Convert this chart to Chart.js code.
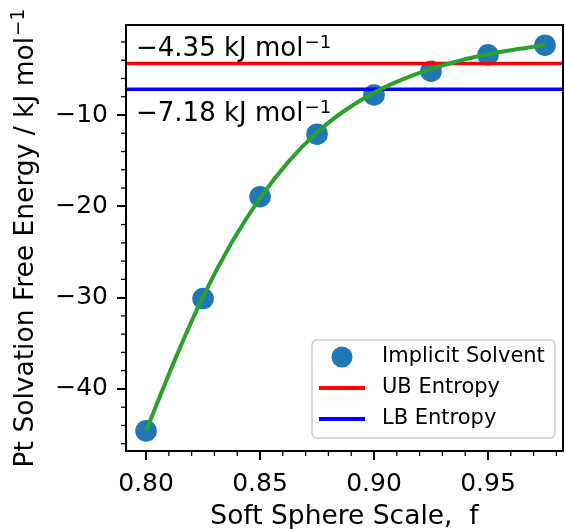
<!DOCTYPE html>
<html>
<head>
<meta charset="utf-8">
<script src="https://cdn.jsdelivr.net/npm/chart.js@4.4.1/dist/chart.umd.min.js"></script>
<style>
html,body{margin:0;padding:0;background:#fff;}
#wrap{width:565px;height:529px;position:relative;}
</style>
</head>
<body>
<div id="wrap"><canvas id="c" width="565" height="529"></canvas></div>
<script>
// ---- data ----
const scaleF = [0.800, 0.825, 0.850, 0.875, 0.900, 0.925, 0.950, 0.975];
const solvEnergy = [-44.6, -30.1, -18.95, -12.1, -7.8, -5.2, -3.4, -2.35];

const fitF = [0.800, 0.8125, 0.825, 0.8375, 0.850, 0.8625, 0.875, 0.8875, 0.900, 0.9125, 0.925, 0.9375, 0.950, 0.9625, 0.975];
const fitE = [-44.6, -36.9, -29.9, -24.0, -19.1, -15.1, -11.9, -9.45, -7.55, -6.1, -4.95, -4.05, -3.35, -2.8, -2.33];

const ubEntropy = -4.35;
const lbEntropy = -7.18;

const xTicks = [0.80, 0.85, 0.90, 0.95];
const yTicks = [-40, -30, -20, -10];
const xLimits = [0.7912, 0.9829];
const yLimits = [-46.8, -0.14];

const ubLabel = ['\u22124.35 kJ mol', '\u22121'];
const lbLabel = ['\u22127.18 kJ mol', '\u22121'];
const xTitle = 'Soft Sphere Scale,  f';
const yTitle = ['Pt Solvation Free Energy / kJ mol', '\u22121'];
const legendItems = [
  {label: 'Implicit Solvent', kind: 'point', color: '#1f77b4'},
  {label: 'UB Entropy', kind: 'line', color: '#ff0000'},
  {label: 'LB Entropy', kind: 'line', color: '#0000ff'}
];

const FONT = "'DejaVu Sans', sans-serif";
const minus = v => (v < 0 ? '\u2212' : '') + Math.abs(v);

// draws main text + superscript, returns total width; (x,y) = left baseline
function supText(ctx, parts, x, y, size, measureOnly) {
  ctx.font = size + 'px ' + FONT;
  const w1 = ctx.measureText(parts[0]).width;
  if (!measureOnly) ctx.fillText(parts[0], x, y);
  const ss = size * 0.7;
  ctx.font = ss + 'px ' + FONT;
  const w2 = ctx.measureText(parts[1]).width;
  if (!measureOnly) ctx.fillText(parts[1], x + w1 + 1, y - size * 0.33);
  return w1 + 1 + w2;
}

const extras = {
  id: 'extras',
  afterDraw(chart) {
    const ctx = chart.ctx;
    const xs = chart.scales.x, ys = chart.scales.y;
    const a = chart.chartArea;
    ctx.save();
    // minor ticks
    ctx.strokeStyle = '#000';
    ctx.lineWidth = 1.3;
    for (let k = 79; k <= 98; k++) {
      if (k % 5 === 0) continue;
      const px = xs.getPixelForValue(k / 100);
      if (px < a.left || px > a.right) continue;
      ctx.beginPath(); ctx.moveTo(px, a.bottom); ctx.lineTo(px, a.bottom + 5); ctx.stroke();
    }
    for (let v = -46; v <= -2; v += 2) {
      if (v % 10 === 0) continue;
      const py = ys.getPixelForValue(v);
      ctx.beginPath(); ctx.moveTo(a.left, py); ctx.lineTo(a.left - 5, py); ctx.stroke();
    }
    // frame
    ctx.lineWidth = 2;
    ctx.strokeRect(a.left, a.top, a.right - a.left, a.bottom - a.top);
    // annotations
    ctx.fillStyle = '#000';
    ctx.textBaseline = 'alphabetic';
    ctx.textAlign = 'left';
    const x0 = xs.getPixelForValue(xLimits[0]) + 10;
    supText(ctx, ubLabel, x0, ys.getPixelForValue(ubEntropy) - 7, 26);
    supText(ctx, lbLabel, x0, ys.getPixelForValue(lbEntropy) + 32, 26);
    // axis titles
    ctx.font = '26.5px ' + FONT;
    ctx.textAlign = 'center';
    ctx.fillText(xTitle, (a.left + a.right) / 2, 524);
    ctx.textAlign = 'left';
    const tw = supText(ctx, yTitle, 0, 0, 26.5, true);
    ctx.save();
    ctx.translate(33, (a.top + a.bottom) / 2);
    ctx.rotate(-Math.PI / 2);
    supText(ctx, yTitle, -tw / 2, 0, 26.5);
    ctx.restore();
    // legend
    const lx = 312, ly = 340, lw = 243, lh = 98, r = 5;
    ctx.beginPath();
    ctx.moveTo(lx + r, ly);
    ctx.arcTo(lx + lw, ly, lx + lw, ly + lh, r);
    ctx.arcTo(lx + lw, ly + lh, lx, ly + lh, r);
    ctx.arcTo(lx, ly + lh, lx, ly, r);
    ctx.arcTo(lx, ly, lx + lw, ly, r);
    ctx.closePath();
    ctx.fillStyle = 'rgba(255,255,255,0.8)';
    ctx.fill();
    ctx.strokeStyle = '#cccccc';
    ctx.lineWidth = 1.5;
    ctx.stroke();
    ctx.font = '21px ' + FONT;
    ctx.textBaseline = 'middle';
    legendItems.forEach((it, i) => {
      const cy = ly + 17 + i * 31;
      if (it.kind === 'point') {
        ctx.fillStyle = it.color;
        ctx.beginPath(); ctx.arc(342, cy, 10.5, 0, Math.PI * 2); ctx.fill();
      } else {
        ctx.strokeStyle = it.color; ctx.lineWidth = 4;
        ctx.beginPath(); ctx.moveTo(319, cy); ctx.lineTo(365, cy); ctx.stroke();
      }
      ctx.fillStyle = '#000';
      ctx.fillText(it.label, 382, cy);
    });
    ctx.restore();
  }
};

const pts = (xa, ya) => xa.map((x, i) => ({x, y: ya[i]}));

new Chart(document.getElementById('c'), {
  type: 'scatter',
  data: {
    datasets: [
      {label: 'fit', data: pts(fitF, fitE), showLine: true, borderColor: '#2ca02c', borderWidth: 4,
       pointRadius: 0, cubicInterpolationMode: 'monotone', order: 0},
      {label: 'UB Entropy', data: pts(xLimits, [ubEntropy, ubEntropy]), showLine: true, borderColor: '#ff0000',
       borderWidth: 3.5, pointRadius: 0, order: 1},
      {label: 'LB Entropy', data: pts(xLimits, [lbEntropy, lbEntropy]), showLine: true, borderColor: '#0000ff',
       borderWidth: 3.5, pointRadius: 0, order: 1},
      {label: 'Implicit Solvent', data: pts(scaleF, solvEnergy), showLine: false, backgroundColor: '#1f77b4',
       borderWidth: 0, pointRadius: 10.8, order: 2}
    ]
  },
  options: {
    responsive: false,
    animation: false,
    devicePixelRatio: 1,
    layout: {autoPadding: false, padding: {top: 25, right: 2, left: 0, bottom: 0}},
    plugins: {legend: {display: false}, tooltip: {enabled: false}},
    scales: {
      x: {
        type: 'linear', min: xLimits[0], max: xLimits[1],
        afterBuildTicks: s => { s.ticks = xTicks.map(v => ({value: v})); },
        afterFit: s => { s.height = 78; s.paddingLeft = 0; s.paddingRight = 0; },
        ticks: {callback: v => Number(v).toFixed(2), color: '#000', font: {family: FONT, size: 25}, padding: 9, maxRotation: 0},
        grid: {drawOnChartArea: false, drawTicks: true, tickLength: 9, color: '#000', lineWidth: 2},
        border: {display: true, color: '#000', width: 2}
      },
      y: {
        type: 'linear', min: yLimits[0], max: yLimits[1],
        afterBuildTicks: s => { s.ticks = yTicks.map(v => ({value: v})); },
        afterFit: s => { s.width = 126; s.paddingTop = 0; s.paddingBottom = 0; },
        ticks: {callback: v => minus(v), color: '#000', font: {family: FONT, size: 25}, padding: 9},
        grid: {drawOnChartArea: false, drawTicks: true, tickLength: 9, color: '#000', lineWidth: 2},
        border: {display: true, color: '#000', width: 2}
      }
    }
  },
  plugins: [extras]
});
</script>
</body>
</html>
